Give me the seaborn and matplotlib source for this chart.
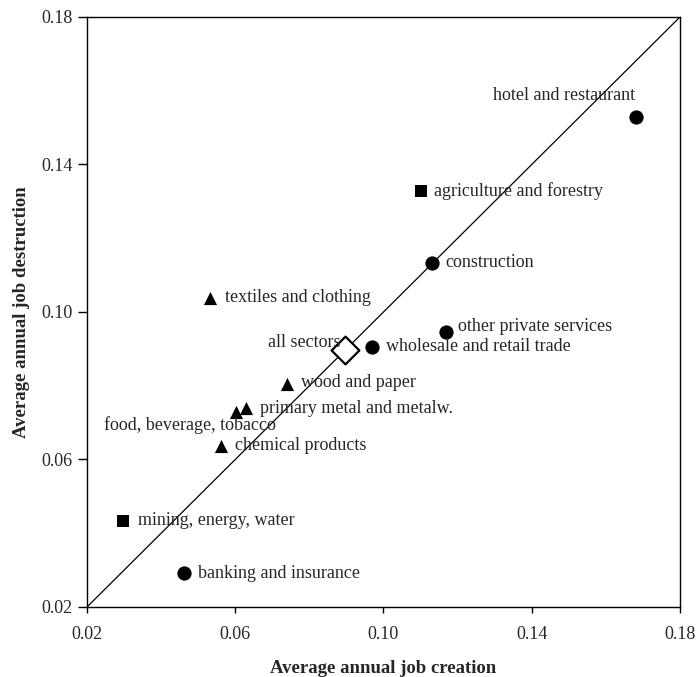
import numpy as np
import pandas as pd
import matplotlib
matplotlib.use("Agg")
import matplotlib.pyplot as plt
import seaborn as sns

sns.set_style("white")
plt.rcParams['font.family'] = ['Liberation Serif', 'DejaVu Serif']
plt.rcParams['font.size'] = 13

sectors = ["hotel and restaurant", "agriculture and forestry", "construction",
           "textiles and clothing", "other private services", "wholesale and retail trade",
           "all sectors", "wood and paper", "primary metal and metalw.",
           "food, beverage, tobacco", "chemical products", "mining, energy, water",
           "banking and insurance"]
creation = [0.168, 0.110, 0.1132, 0.0532, 0.117, 0.097, 0.0895, 0.074, 0.063,
            0.0603, 0.0562, 0.0297, 0.0462]
destruction = [0.1528, 0.1327, 0.1134, 0.1037, 0.0947, 0.0906, 0.0898, 0.0806, 0.0741,
               0.073, 0.0637, 0.0434, 0.0292]
kind = ["service", "primary", "service", "manuf", "service", "service", "all",
        "manuf", "manuf", "manuf", "manuf", "primary", "service"]

df = pd.DataFrame({"sector": sectors, "creation": creation,
                   "destruction": destruction, "kind": kind})

# label offsets in pixels (dx, dy, ha)
offsets = {
    "hotel and restaurant": (0, 22, "right"),
    "agriculture and forestry": (13, 0, "left"),
    "construction": (13, 0, "left"),
    "textiles and clothing": (15, 1, "left"),
    "other private services": (12, 5, "left"),
    "wholesale and retail trade": (14, 0, "left"),
    "all sectors": (-4, 7, "right"),
    "wood and paper": (14, 1, "left"),
    "primary metal and metalw.": (14, -1, "left"),
    "food, beverage, tobacco": (40, -14, "right"),
    "chemical products": (14, 0, "left"),
    "mining, energy, water": (15, 0, "left"),
    "banking and insurance": (14, 0, "left"),
}

fig = plt.figure(figsize=(7, 6.77), dpi=100)
ax = fig.add_axes([0.1243, 0.1034, 0.8471, 0.8715])

ax.plot([0.02, 0.18], [0.02, 0.18], color="black", lw=0.9, zorder=1)

marks = {"service": ("o", 105), "primary": ("s", 85), "manuf": ("^", 90)}
for k, (m, s) in marks.items():
    sub = df[df.kind == k]
    sns.scatterplot(data=sub, x="creation", y="destruction", marker=m, s=s,
                    color="black", edgecolor="black", linewidth=0, ax=ax, zorder=3)
sub = df[df.kind == "all"]
sns.scatterplot(data=sub, x="creation", y="destruction", marker="D", s=200,
                facecolor="white", edgecolor="black", linewidth=1.6, ax=ax, zorder=4)

for _, row in df.iterrows():
    dx, dy, ha = offsets[row.sector]
    ax.annotate(row.sector, (row.creation, row.destruction), xytext=(dx, dy),
                textcoords="offset pixels", ha=ha, va="center", fontsize=13, zorder=5)

ticks = [0.02, 0.06, 0.10, 0.14, 0.18]
ax.set_xlim(0.02, 0.18)
ax.set_ylim(0.02, 0.18)
ax.set_xticks(ticks)
ax.set_yticks(ticks)
ax.set_xticklabels([f"{t:.2f}" for t in ticks])
ax.set_yticklabels([f"{t:.2f}" for t in ticks])
ax.tick_params(axis="x", direction="out", length=4, width=1, color="black",
               labelsize=13, bottom=True, pad=10)
ax.tick_params(axis="y", direction="out", length=6.5, width=1, color="black",
               labelsize=13, left=True, pad=4)
for sp in ax.spines.values():
    sp.set_color("black")
    sp.set_linewidth(1)
ax.set_xlabel("Average annual job creation", fontweight="bold", fontsize=13.5, labelpad=12)
ax.set_ylabel("Average annual job destruction", fontweight="bold", fontsize=13.5, labelpad=8)

fig.savefig("out.png", dpi=100)
